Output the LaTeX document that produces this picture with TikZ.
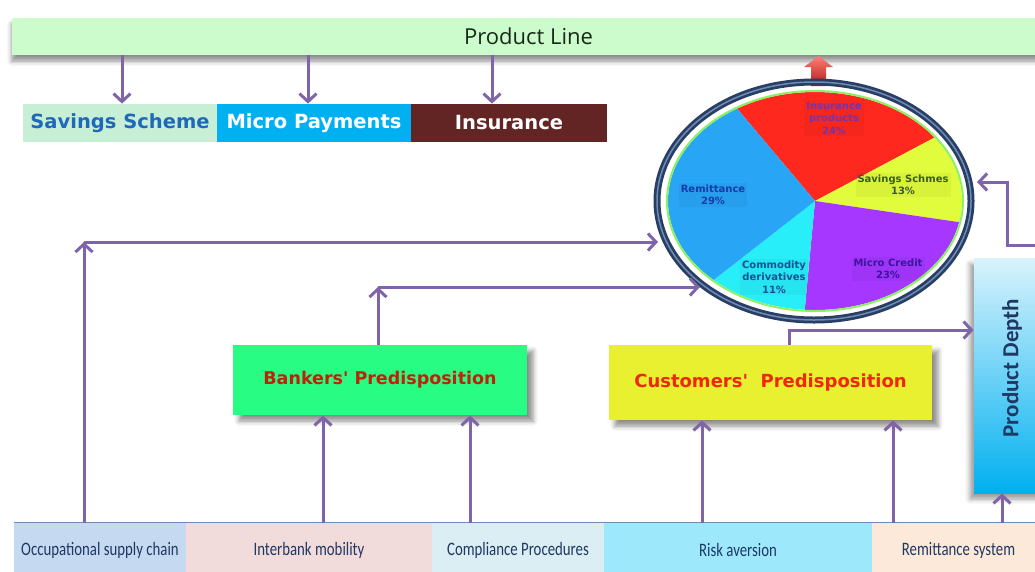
\documentclass[tikz,border=0pt]{standalone}
\usepackage{fontspec}
\usepackage{graphicx}
\setmainfont{DejaVu Sans}
\newfontfamily\calibri{Carlito}
\newfontfamily\opensans{Open Sans}
\usetikzlibrary{arrows.meta,shadows.blur}

\definecolor{flowc}{RGB}{128,100,170}
\definecolor{linec}{RGB}{204,252,204}
\definecolor{linet}{RGB}{25,40,25}
\definecolor{savc}{RGB}{198,239,213}
\definecolor{savt}{RGB}{30,105,185}
\definecolor{micc}{RGB}{0,176,240}
\definecolor{insc}{RGB}{99,37,35}
\definecolor{bankc}{RGB}{40,252,130}
\definecolor{bankt}{RGB}{190,35,10}
\definecolor{custc}{RGB}{232,240,48}
\definecolor{custt}{RGB}{240,40,10}
\definecolor{deptht}{RGB}{31,56,100}
\definecolor{occc}{RGB}{197,217,241}
\definecolor{interc}{RGB}{242,220,219}
\definecolor{compc}{RGB}{218,238,243}
\definecolor{riskc}{RGB}{158,232,252}
\definecolor{remitc}{RGB}{253,233,217}
\definecolor{baset}{RGB}{31,56,100}
\definecolor{pieRed}{RGB}{255,40,30}
\definecolor{pieYel}{RGB}{225,252,60}
\definecolor{piePur}{RGB}{165,55,255}
\definecolor{pieCya}{RGB}{40,238,250}
\definecolor{pieBlu}{RGB}{40,165,245}
\definecolor{pieGrn}{RGB}{140,240,100}
\definecolor{ringc}{RGB}{40,62,100}
\definecolor{ringlt}{RGB}{110,140,180}

\newcommand{\narrowtext}[1]{\scalebox{0.78}[1]{#1}}

\tikzset{every picture/.style={line width=0.75pt}}
\tikzset{
  flow/.style={draw=flowc, line width=3pt, -{Straight Barb[length=8pt,width=17pt]}},
  band/.style={minimum width=1033pt, minimum height=37pt, inner sep=0pt, fill=linec, text=linet,
    font=\opensans\fontsize{22}{24}\selectfont,
    blur shadow={shadow xshift=0pt, shadow yshift=-6pt, shadow blur radius=5pt, shadow opacity=45}},
  tab/.style={minimum height=38pt, inner sep=0pt, font=\bfseries\fontsize{19.5}{22}\selectfont},
  predbox/.style={inner sep=0pt,
    blur shadow={shadow xshift=6pt, shadow yshift=-6pt, shadow blur radius=5pt, shadow opacity=45}},
  base/.style={minimum height=54pt, inner sep=0pt, text=baset, font=\calibri\fontsize{19}{22}\selectfont},
  pielabel/.style={align=center, inner sep=2pt, fill=black, fill opacity=0.04, text opacity=1,
    font=\bfseries\fontsize{10}{12.5}\selectfont},
}

\begin{document}
\begin{tikzpicture}[x=1pt,y=1pt,yscale=-1,xscale=1]
\useasboundingbox (0,0) rectangle (1035,571);

% Product line band and its three products
\node[band] (line) at (528.5,36.5) {Product Line};
\node[tab, minimum width=194pt, fill=savc, text=savt] (sav) at (120,123) {Savings Scheme};
\node[tab, minimum width=194pt, fill=micc, text=white] (mic) at (314,123) {Micro Payments};
\node[tab, minimum width=196pt, fill=insc, text=white] (ins) at (509,123) {Insurance};

% Guides for the arrow columns
\coordinate (p1) at (122,0);
\coordinate (p2) at (308,0);
\coordinate (p3) at (492,0);
\coordinate (g2) at (323,0);
\coordinate (g3) at (470,0);
\coordinate (g4) at (702,0);
\coordinate (g5) at (893,0);
\coordinate (g6) at (1002,0);

%Straight Lines
\draw[flow] (line.south -| p1) -- (sav.north -| p1);
\draw[flow] (line.south -| p2) -- (mic.north -| p2);
\draw[flow] (line.south -| p3) -- (ins.north -| p3);

% Predisposition boxes
\node[predbox, minimum width=294pt, minimum height=70pt, fill=bankc, text=bankt,
  font=\bfseries\fontsize{17.5}{20}\selectfont] (bank) at (380,380) {Bankers\textquotesingle\ Predisposition};
\node[predbox, minimum width=323pt, minimum height=75pt, fill=custc, text=custt,
  font=\bfseries\fontsize{18}{20}\selectfont] (cust) at (770.5,382.5) {Customers\textquotesingle\ \ Predisposition};

% Product depth column
\node[minimum width=76pt, minimum height=235pt, inner sep=0pt, top color=white!85!micc, bottom color=micc,
  blur shadow={shadow xshift=-4pt, shadow yshift=-6pt, shadow blur radius=5pt, shadow opacity=40}] (depth) at (1012,375.5) {};
\node[rotate=90, text=deptht, font=\calibri\bfseries\fontsize{23}{26}\selectfont] (depthtxt) at (1012,368) {Product Depth};

% Bottom row of drivers
\node[base, minimum width=172pt, fill=occc] (occ) at (100,550) {\narrowtext{Occupational supply chain}};
\node[base, minimum width=246pt, fill=interc] (inter) at (309,550) {\narrowtext{Interbank mobility}};
\node[base, minimum width=172pt, fill=compc] (comp) at (518,550) {\narrowtext{Compliance Procedures}};
\node[base, minimum width=268pt, fill=riskc] (risk) at (738,550) {\narrowtext{Risk aversion}};
\node[base, minimum width=173pt, fill=remitc] (remit) at (958.5,550) {\narrowtext{Remittance system}};
\draw[draw=ringlt, line width=1pt] (occ.north west) -- (remit.north east);

% Red arrow out of the chart
\shade[top color=pieRed!60!white, bottom color=pieRed!70!black] (811,86) -- (811,67) -- (804,67) -- (818.5,56) -- (833,67) -- (826,67) -- (826,86) -- cycle;

% Pie chart
\begin{scope}[shift={(815,201)}, yscale=-1]
\fill[pieRed] (0,0) -- (122:147 and 109) arc[start angle=122, end angle=35.6, x radius=147, y radius=109] -- cycle;
\fill[pieYel] (0,0) -- (35.6:147 and 109) arc[start angle=35.6, end angle=-11.2, x radius=147, y radius=109] -- cycle;
\fill[piePur] (0,0) -- (-11.2:147 and 109) arc[start angle=-11.2, end angle=-94, x radius=147, y radius=109] -- cycle;
\fill[pieCya] (0,0) -- (-94:147 and 109) arc[start angle=-94, end angle=-133.6, x radius=147, y radius=109] -- cycle;
\fill[pieBlu] (0,0) -- (-133.6:147 and 109) arc[start angle=-133.6, end angle=-238, x radius=147, y radius=109] -- cycle;
\draw[pieGrn, line width=2pt] (0,0) ellipse [x radius=148, y radius=110];
\draw[ringc, line width=7pt] (-1,0) ellipse [x radius=157, y radius=119];
\draw[ringlt, line width=1.5pt] (-1,0) ellipse [x radius=157, y radius=119];
\end{scope}

% Text Node
\node[pielabel, text={rgb,255:red,120;green,50;blue,170}] (lins) at (834,118) {Insurance\\products\\24\%};
\node[pielabel, text={rgb,255:red,60;green,90;blue,50}] (lsav) at (903,185) {Savings Schmes\\13\%};
\node[pielabel, text={rgb,255:red,60;green,20;blue,160}] (lmic) at (888,269) {Micro Credit\\23\%};
\node[pielabel, text={rgb,255:red,20;green,80;blue,150}] (lcom) at (774,277) {Commodity\\derivatives\\11\%};
\node[pielabel, text={rgb,255:red,20;green,60;blue,170}] (lrem) at (713,195) {Remittance\\29\%};

% Bends and entry points of the feed lines
\coordinate (cA) at (84,242);
\coordinate (eA) at (658,242);
\coordinate (cB) at (378,287);
\coordinate (eB) at (700,287);
\coordinate (cC) at (789,330);
\coordinate (dOut) at (1040,245);
\coordinate (dBend) at (1007,182);
\coordinate (eD) at (977,182);

%Straight Lines
\draw[flow] (occ.north -| cA) -- (cA);
\draw[flow] (cA) -- (eA);
\draw[flow] (bank.north -| cB) -- (cB);
\draw[flow] (cB) -- (eB);
\draw[flow] (inter.north -| g2) -- (bank.south -| g2);
\draw[flow] (comp.north -| g3) -- (bank.south -| g3);
\draw[flow] (risk.north -| g4) -- (cust.south -| g4);
\draw[flow] (remit.north -| g5) -- (cust.south -| g5);
\draw[flow] (remit.north -| g6) -- (depth.south -| g6);
\draw[flow] (cust.north -| cC) -- (cC) -- (cC -| depth.west);
\draw[flow] (dOut) -| (dBend) -- (eD);

\end{tikzpicture}
\end{document}
